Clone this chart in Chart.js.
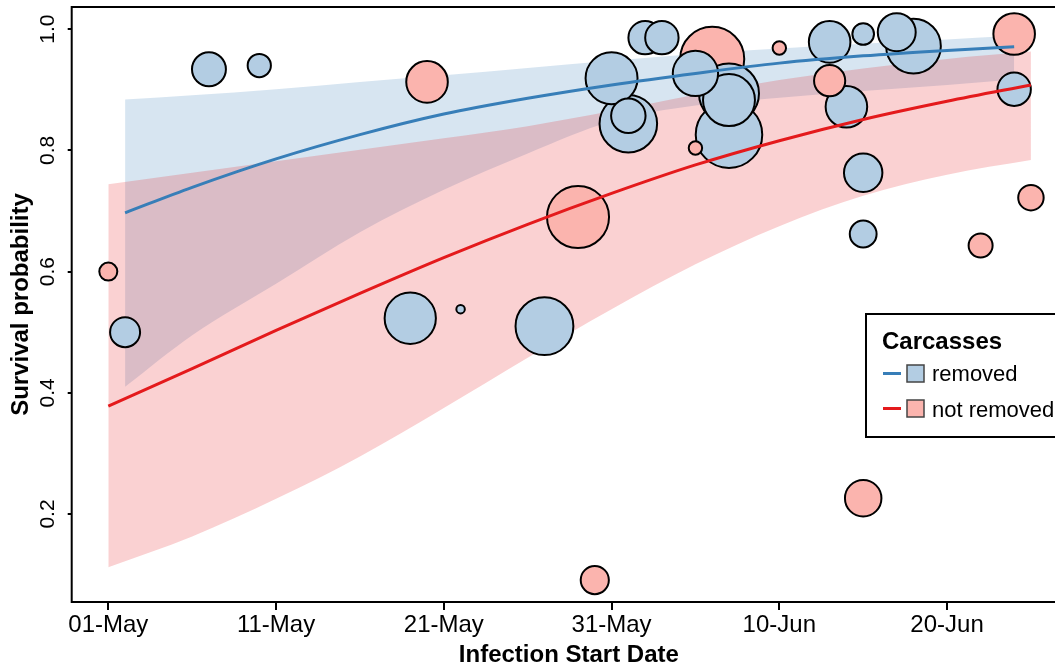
<!DOCTYPE html>
<html>
<head>
<meta charset="utf-8">
<script src="https://cdn.jsdelivr.net/npm/chart.js@4.4.0/dist/chart.umd.min.js"></script>
<style>
  html, body { margin: 0; padding: 0; background: #fff; overflow: hidden; }
  #wrap { width: 1055px; height: 666px; overflow: hidden; }
  canvas { display: block; }
</style>
</head>
<body>
<div id="wrap"><canvas id="survivalChart" width="1072" height="666"></canvas></div>
<script>
// x values are days since 01-May
const tickDays = [0, 10, 20, 30, 40, 50];
const tickLabels = ['01-May', '11-May', '21-May', '31-May', '10-Jun', '20-Jun'];
const yTicks = [0.2, 0.4, 0.6, 0.8, 1.0];

// fitted curves + confidence bands
const removedDays  = [1, 5, 10, 15, 20, 25, 30, 35, 40, 45, 50, 54];
const removedFit   = [0.697, 0.739, 0.786, 0.826, 0.860, 0.886, 0.908, 0.927, 0.944, 0.956, 0.965, 0.971];
const removedUpper = [0.884, 0.891, 0.901, 0.913, 0.924, 0.936, 0.948, 0.959, 0.968, 0.976, 0.983, 0.989];
const removedLower = [0.410, 0.495, 0.580, 0.665, 0.735, 0.795, 0.848, 0.874, 0.887, 0.898, 0.908, 0.917];

const notRemovedDays  = [0, 5, 10, 15, 20, 25, 30, 35, 40, 45, 50, 55];
const notRemovedFit   = [0.378, 0.440, 0.503, 0.564, 0.623, 0.678, 0.729, 0.776, 0.816, 0.851, 0.881, 0.908];
const notRemovedUpper = [0.744, 0.763, 0.782, 0.801, 0.820, 0.840, 0.865, 0.892, 0.916, 0.935, 0.951, 0.963];
const notRemovedLower = [0.112, 0.163, 0.225, 0.295, 0.375, 0.458, 0.538, 0.612, 0.675, 0.725, 0.760, 0.784];

// observed survival per group (day, survival, number of birds)
const removedObsDay  = [1, 6, 9, 18, 21, 26, 30, 31, 31, 32, 33, 35, 37, 37, 37, 43, 44, 45, 45, 45, 47, 48, 54];
const removedObsSurv = [0.500, 0.934, 0.940, 0.523, 0.538, 0.510, 0.919, 0.844, 0.857, 0.986, 0.986, 0.927, 0.894, 0.883, 0.826, 0.979, 0.872, 0.992, 0.763, 0.662, 0.995, 0.972, 0.901];
const removedObsN    = [25, 32, 15, 73, 2, 93, 75, 92, 33, 31, 31, 57, 100, 75, 123, 48, 48, 13, 41, 20, 40, 83, 31];

const notRemovedObsDay  = [0, 19, 28, 29, 35, 36, 40, 43, 45, 52, 54, 55];
const notRemovedObsSurv = [0.600, 0.913, 0.690, 0.091, 0.804, 0.951, 0.969, 0.915, 0.226, 0.643, 0.992, 0.722];
const notRemovedObsN    = [9, 48, 107, 22, 5, 114, 5, 27, 37, 16, 48, 18];

const BLUE = '#377EB8', RED = '#E41A1C';
const BLUE_PT = '#B3CDE3', RED_PT = '#FBB4AE';
const FONT = "'Liberation Sans', Arial, Helvetica, sans-serif";

function toXY(days, vals) {
  return days.map((d, i) => ({ x: d, y: vals[i] }));
}

// one bubble set, big circles first so small ones stay visible
const bubbles = [];
removedObsDay.forEach((d, i) => bubbles.push({ x: d, y: removedObsSurv[i], r: 3 * Math.sqrt(removedObsN[i]), c: BLUE_PT }));
notRemovedObsDay.forEach((d, i) => bubbles.push({ x: d, y: notRemovedObsSurv[i], r: 3 * Math.sqrt(notRemovedObsN[i]), c: RED_PT }));
bubbles.sort((a, b) => b.r - a.r);

const bandLine = { type: 'line', pointRadius: 0, borderWidth: 0, borderColor: 'transparent', cubicInterpolationMode: 'monotone' };

const whiteBg = {
  id: 'whiteBg',
  beforeDraw(chart) {
    const ctx = chart.ctx;
    ctx.save();
    ctx.fillStyle = '#fff';
    ctx.fillRect(0, 0, chart.width, chart.height);
    ctx.restore();
  }
};

const boxAndLabels = {
  id: 'boxAndLabels',
  afterDraw(chart) {
    const ctx = chart.ctx;
    const a = chart.chartArea;
    ctx.save();
    ctx.strokeStyle = '#000';
    ctx.lineWidth = 2;
    ctx.strokeRect(a.left, a.top, a.right - a.left, a.bottom - a.top);

    // rotated y tick labels
    const ys = chart.scales.y;
    ctx.fillStyle = '#000';
    ctx.font = '21px ' + FONT;
    ctx.textAlign = 'center';
    ctx.textBaseline = 'alphabetic';
    ys.ticks.forEach(t => {
      const py = ys.getPixelForValue(t.value);
      ctx.save();
      ctx.translate(54, py);
      ctx.rotate(-Math.PI / 2);
      ctx.fillText(t.value.toFixed(1), 0, 0);
      ctx.restore();
    });

    // legend
    const lx = 866, ly = 314;
    ctx.fillStyle = '#fff';
    ctx.fillRect(lx, ly, 260, 123);
    ctx.strokeStyle = '#000';
    ctx.lineWidth = 2;
    ctx.strokeRect(lx, ly, 260, 123);
    ctx.fillStyle = '#000';
    ctx.textAlign = 'left';
    ctx.font = 'bold 24px ' + FONT;
    ctx.fillText('Carcasses', 882, 349);
    const items = [
      { line: BLUE, fill: BLUE_PT, text: 'removed', cy: 373.5, base: 381 },
      { line: RED, fill: RED_PT, text: 'not removed', cy: 408.5, base: 416.5 }
    ];
    ctx.font = '22px ' + FONT;
    items.forEach(it => {
      ctx.strokeStyle = it.line;
      ctx.lineWidth = 3;
      ctx.beginPath();
      ctx.moveTo(883, it.cy);
      ctx.lineTo(901, it.cy);
      ctx.stroke();
      ctx.fillStyle = it.fill;
      ctx.fillRect(907, it.cy - 8.5, 17, 17);
      ctx.strokeStyle = '#444';
      ctx.lineWidth = 1.5;
      ctx.strokeRect(907, it.cy - 8.5, 17, 17);
      ctx.fillStyle = '#000';
      ctx.fillText(it.text, 932, it.base);
    });
    ctx.restore();
  }
};

new Chart(document.getElementById('survivalChart'), {
  type: 'bubble',
  data: {
    datasets: [
      Object.assign({}, bandLine, { data: toXY(removedDays, removedUpper), backgroundColor: 'rgba(55,126,184,0.2)', fill: '+1', order: 4 }),
      Object.assign({}, bandLine, { data: toXY(removedDays, removedLower), fill: false, order: 4 }),
      Object.assign({}, bandLine, { data: toXY(notRemovedDays, notRemovedUpper), backgroundColor: 'rgba(228,26,28,0.2)', fill: '+1', order: 3 }),
      Object.assign({}, bandLine, { data: toXY(notRemovedDays, notRemovedLower), fill: false, order: 3 }),
      {
        type: 'bubble',
        data: bubbles,
        backgroundColor: ctx => (ctx.raw ? ctx.raw.c : BLUE_PT),
        borderColor: '#000',
        borderWidth: 2,
        order: 1
      },
      { type: 'line', data: toXY(removedDays, removedFit), borderColor: BLUE, borderWidth: 3, pointRadius: 0, fill: false, cubicInterpolationMode: 'monotone', order: 0 },
      { type: 'line', data: toXY(notRemovedDays, notRemovedFit), borderColor: RED, borderWidth: 3, pointRadius: 0, fill: false, cubicInterpolationMode: 'monotone', order: 0 }
    ]
  },
  options: {
    responsive: false,
    animation: false,
    events: [],
    layout: { autoPadding: false, padding: { top: 7, right: 6, bottom: 0, left: 0 } },
    plugins: {
      legend: { display: false },
      tooltip: { enabled: false }
    },
    scales: {
      x: {
        type: 'linear',
        min: -2.182,
        max: 57.09,
        afterFit: s => { s.height = 64; },
        afterBuildTicks: s => { s.ticks = tickDays.map(v => ({ value: v })); },
        ticks: {
          callback: v => tickLabels[tickDays.indexOf(v)],
          font: { family: FONT, size: 24 },
          color: '#000',
          padding: 1,
          maxRotation: 0,
          autoSkip: false
        },
        grid: { drawOnChartArea: false, tickLength: 8, lineWidth: 2, color: '#000' },
        border: { display: false },
        title: {
          display: true,
          text: 'Infection Start Date',
          font: { family: FONT, size: 24, weight: 'bold' },
          color: '#000',
          padding: { top: 0, bottom: -4 }
        }
      },
      y: {
        type: 'linear',
        min: 0.0548,
        max: 1.0366,
        afterFit: s => { s.width = 71.7; },
        afterBuildTicks: s => { s.ticks = yTicks.map(v => ({ value: v })); },
        ticks: { display: false },
        grid: { drawOnChartArea: false, tickLength: 4, lineWidth: 2, color: '#000' },
        border: { display: false },
        title: {
          display: true,
          text: 'Survival probability',
          font: { family: FONT, size: 24, weight: 'bold' },
          color: '#000',
          padding: { top: 7.3, bottom: 0 }
        }
      }
    }
  },
  plugins: [whiteBg, boxAndLabels]
});
</script>
</body>
</html>
